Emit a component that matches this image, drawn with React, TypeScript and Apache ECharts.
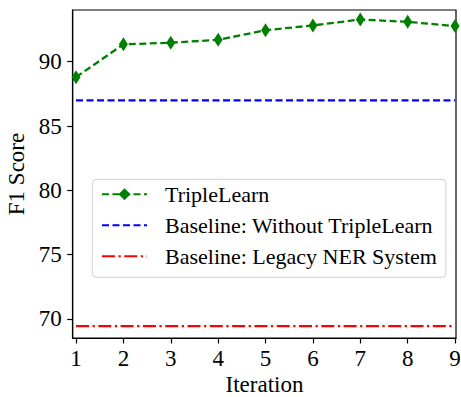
import React, { useEffect, useRef } from "react";
import * as echarts from "echarts";

const iterations = [1, 2, 3, 4, 5, 6, 7, 8, 9];
const tripleLearn = [88.8, 91.35, 91.48, 91.7, 92.45, 92.82, 93.28, 93.1, 92.77];
const baselineWithout = [87.0, 87.0, 87.0, 87.0, 87.0, 87.0, 87.0, 87.0, 87.0];
const baselineLegacy = [69.45, 69.45, 69.45, 69.45, 69.45, 69.45, 69.45, 69.45, 69.45];
const xTicks = [1, 2, 3, 4, 5, 6, 7, 8, 9];
const yTicks = [70, 75, 80, 85, 90];
const seriesNames = ["TripleLearn", "Baseline: Without TripleLearn", "Baseline: Legacy NER System"];
const xTitle = "Iteration";
const yTitle = "F1 Score";

const FONT = "'Liberation Serif', 'Times New Roman', serif";

export default function App() {
  const ref = useRef<HTMLDivElement>(null);
  useEffect(() => {
    if (!ref.current) return;
    const chart = echarts.init(ref.current, undefined, { renderer: "svg" });
    const pairs = (vals: number[]) => iterations.map((x, i) => [x, vals[i]]);
    chart.setOption({
      animation: false,
      backgroundColor: "#ffffff",
      textStyle: { fontFamily: FONT },
      grid: {
        left: 72.7,
        top: 10,
        right: 5,
        bottom: 59,
        show: true,
        borderColor: "#000",
        borderWidth: 1.2,
        containLabel: false,
        outerBoundsMode: "none",
      },
      graphic: [
        {
          type: "text",
          x: 264.5,
          y: 384,
          style: {
            text: xTitle,
            fontFamily: FONT,
            fontSize: 23,
            fill: "#000",
            align: "center",
            verticalAlign: "middle",
          },
        },
      ],
      xAxis: {
        type: "value",
        min: 0.93,
        max: 9.02,
        axisLine: { show: true, lineStyle: { color: "#000", width: 1.2 } },
        axisTick: { show: true, customValues: xTicks, length: 5.5, lineStyle: { color: "#000", width: 1.2 } },
        axisLabel: { customValues: xTicks, fontFamily: FONT, fontSize: 23, color: "#000", margin: 9 },
        splitLine: { show: false },
      },
      yAxis: {
        type: "value",
        min: 68.52,
        max: 94.02,
        name: yTitle,
        nameLocation: "middle",
        nameGap: 42,
        nameTextStyle: { fontFamily: FONT, fontSize: 23, color: "#000" },
        axisLine: { show: true, lineStyle: { color: "#000", width: 1.2 } },
        axisTick: { show: true, customValues: yTicks, length: 5.5, lineStyle: { color: "#000", width: 1.2 } },
        axisLabel: { customValues: yTicks, fontFamily: FONT, fontSize: 23, color: "#000", margin: 11 },
        splitLine: { show: false },
      },
      legend: {
        orient: "vertical",
        left: 92.3,
        top: 179.3,
        data: [
          { name: seriesNames[0] },
          { name: seriesNames[1], itemStyle: { opacity: 0, borderWidth: 0 } },
          { name: seriesNames[2], itemStyle: { opacity: 0, borderWidth: 0 } },
        ],
        itemWidth: 45,
        itemHeight: 15,
        itemGap: 9,
        padding: [4, 9, 10, 8.7],
        borderColor: "#d0d0d0",
        borderWidth: 1,
        borderRadius: 4,
        backgroundColor: "rgba(255,255,255,0.8)",
        textStyle: { fontFamily: FONT, fontSize: 22, color: "#000", padding: [0, 0, 0, 13] },
      },
      series: [
        {
          name: seriesNames[0],
          type: "line",
          data: pairs(tripleLearn),
          symbol: "diamond",
          symbolSize: [9, 14],
          itemStyle: { color: "#008000" },
          lineStyle: { color: "#008000", width: 2.3, type: [7, 3.5] },
          z: 3,
        },
        {
          name: seriesNames[1],
          type: "line",
          data: pairs(baselineWithout),
          symbol: "none",
          itemStyle: { color: "#0000ff" },
          lineStyle: { color: "#0000ff", width: 2.3, type: [7, 3.5] },
        },
        {
          name: seriesNames[2],
          type: "line",
          data: pairs(baselineLegacy),
          symbol: "none",
          itemStyle: { color: "#ff0000" },
          lineStyle: { color: "#ff0000", width: 2.3, type: [13, 3.5, 2.3, 3.5] },
        },
      ],
    });
    return () => chart.dispose();
  }, []);
  return (
    <div
      ref={ref}
      style={{ position: "fixed", left: 0, top: 0, width: 461, height: 397, background: "#fff" }}
    />
  );
}
